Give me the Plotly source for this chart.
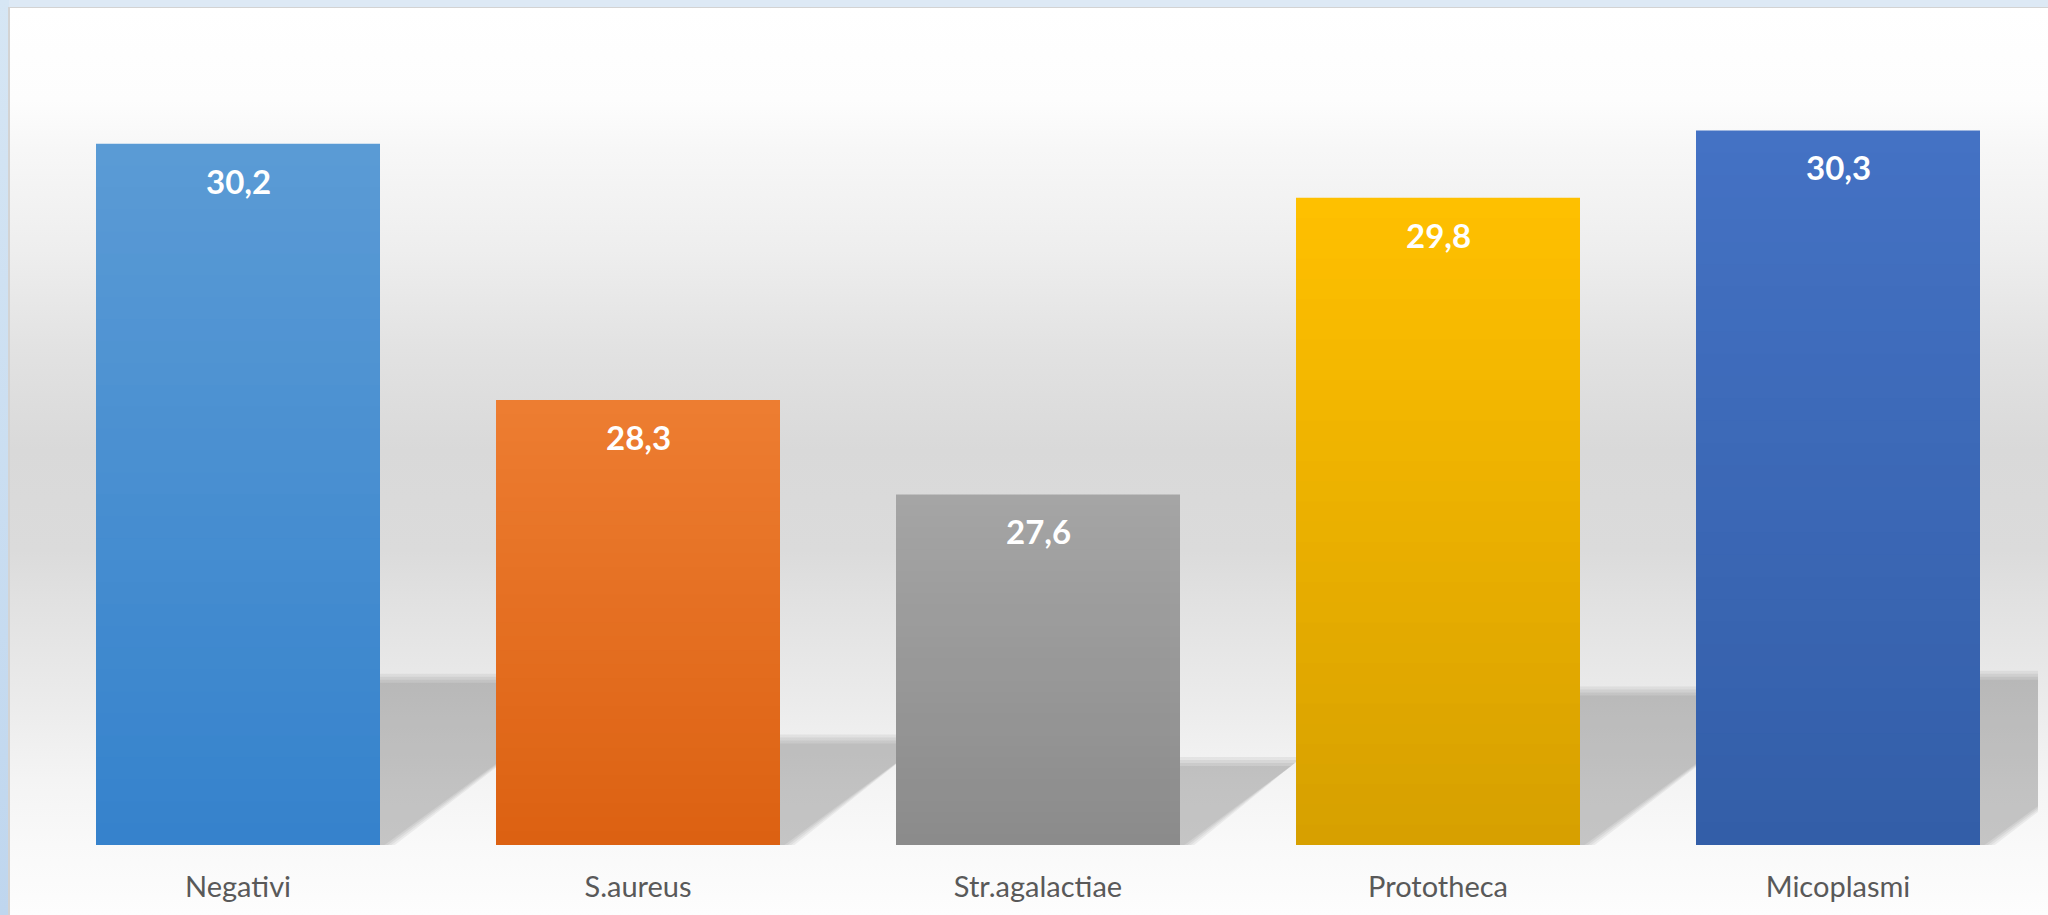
import base64
import plotly.graph_objects as go

# ---------------- data ----------------
categories = ["Negativi", "S.aureus", "Str.agalactiae", "Prototheca", "Micoplasmi"]
values = [30.2, 28.3, 27.6, 29.8, 30.3]
top_colors = ["#5b9bd5", "#ed7d31", "#a5a5a5", "#ffc000", "#4472c4"]
bottom_colors = ["#3582cc", "#dc6112", "#8b8b8b", "#d6a000", "#335ea8"]
y_min, y_max = 25, 31

# ---------------- layout geometry ----------------
W, H = 2048, 915
ML, MR, MT, MB = 38, 10, 36, 70
PW, PH = W - ML - MR, H - MT - MB
BARGAP = 0.29
px_x = PW / len(categories)          # pixels per x unit
px_y = PH / (y_max - y_min)          # pixels per y unit


def hex2rgb(h):
    h = h.lstrip("#")
    return tuple(int(h[i:i + 2], 16) for i in (0, 2, 4))


def mix(c1, c2, t):
    a, b = hex2rgb(c1), hex2rgb(c2)
    return "rgb(%d,%d,%d)" % tuple(round(a[j] + (b[j] - a[j]) * t) for j in range(3))


# ---------------- background (svg gradient image) ----------------
bg_stops = [(8, "#ffffff"), (100, "#fdfdfd"), (150, "#f7f7f7"), (250, "#eeeeee"),
            (350, "#e2e2e2"), (450, "#d9d9d9"), (550, "#dbdbdb"), (600, "#e1e1e1"),
            (700, "#ebebeb"), (780, "#f4f4f4"), (845, "#f9f9f9"), (915, "#fdfdfd")]
stops_svg = "".join(
    '<stop offset="%.4f" stop-color="%s"/>' % ((y - 8) / (H - 8), c) for y, c in bg_stops)
svg = (
    '<svg xmlns="http://www.w3.org/2000/svg" width="%d" height="%d" viewBox="0 0 %d %d" '
    'preserveAspectRatio="none">'
    '<defs><linearGradient id="g" x1="0" y1="0" x2="0" y2="1">%s</linearGradient>'
    '<linearGradient id="s" x1="0" y1="0" x2="0" y2="1">'
    '<stop offset="0" stop-color="#d6e6f4"/><stop offset="1" stop-color="#bfd6ee"/></linearGradient></defs>'
    '<rect x="0" y="0" width="%d" height="%d" fill="#dde9f5"/>'
    '<rect x="0" y="0" width="9" height="%d" fill="url(#s)"/>'
    '<rect x="8" y="7" width="%d" height="%d" fill="#d3d3d3"/>'
    '<rect x="10" y="8" width="%d" height="%d" fill="url(#g)"/>'
    '</svg>'
) % (W, H, W, H, stops_svg, W, H, H, W - 8, H - 7, W - 10, H - 8)
bg_uri = "data:image/svg+xml;base64," + base64.b64encode(svg.encode()).decode()

fig = go.Figure()

# ---------------- bars (vertical gradient via overlaid bands) ----------------
x_idx = list(range(len(categories)))
N = 32
for k in range(N):
    frac = 1 - k / N
    t = (k + 0.5) / N
    fig.add_trace(go.Bar(
        x=x_idx,
        y=[(v - y_min) * frac for v in values],
        base=y_min,
        marker=dict(color=[mix(a, b, t) for a, b in zip(top_colors, bottom_colors)],
                    line=dict(width=0)),
        hoverinfo="skip",
        showlegend=False,
    ))

# ---------------- perspective shadows ----------------
half_w = (1 - BARGAP) / 2
K_H = 0.237          # shadow height ratio
SKEW = 1.4           # horizontal px per vertical px
shapes = []
for i, v in enumerate(values):
    sh_h = K_H * (v - y_min)                # in y units
    shift = SKEW * sh_h * px_y / px_x       # in x units
    for e in (-5, -2, 1, 4):                # soft edge by layered insets (px)
        ex = e / px_x
        ey = e / px_y
        yt = y_min + sh_h - ey
        pts = [
            (i - half_w + ex, y_min - 0.05),
            (i + half_w - 1.2 * ex, y_min - 0.05),
            (i + half_w + shift - 1.2 * ex, yt),
            (i - half_w + shift + ex, yt),
        ]
        path = "M " + " L ".join("%.5f,%.5f" % p for p in pts) + " Z"
        shapes.append(dict(type="path", path=path, xref="x", yref="y", layer="below",
                           fillcolor="rgba(0,0,0,0.055)", line=dict(width=0)))

# ---------------- data labels ----------------
annotations = []
for i, v in enumerate(values):
    annotations.append(dict(
        x=i, y=v, xref="x", yref="y", text=("%.1f" % v).replace(".", ","),
        showarrow=False, yanchor="top", yshift=-15,
        font=dict(family="Lato", size=33, color="#ffffff", weight="bold"),
    ))

fig.update_layout(
    width=W, height=H,
    margin=dict(l=ML, r=MR, t=MT, b=MB, pad=0),
    barmode="overlay",
    bargap=BARGAP,
    paper_bgcolor="#ffffff",
    plot_bgcolor="rgba(0,0,0,0)",
    showlegend=False,
    shapes=shapes,
    annotations=annotations,
    images=[dict(source=bg_uri, xref="paper", yref="paper",
                 x=-ML / PW, y=1 + MT / PH, sizex=W / PW, sizey=H / PH,
                 xanchor="left", yanchor="top", sizing="stretch", layer="below")],
    xaxis=dict(range=[-0.5, len(categories) - 0.5], tickvals=x_idx, ticktext=categories,
               showgrid=False, zeroline=False, showline=False, ticks="",
               tickfont=dict(family="Lato", size=29, color="#595959"),
               ticklabelstandoff=22, fixedrange=True),
    yaxis=dict(range=[y_min, y_max], visible=False, showgrid=False, zeroline=False,
               fixedrange=True),
)

fig.write_html("out.html", config={"displayModeBar": False},
               post_script="document.body.style.margin='0';document.body.style.overflow='hidden';")
